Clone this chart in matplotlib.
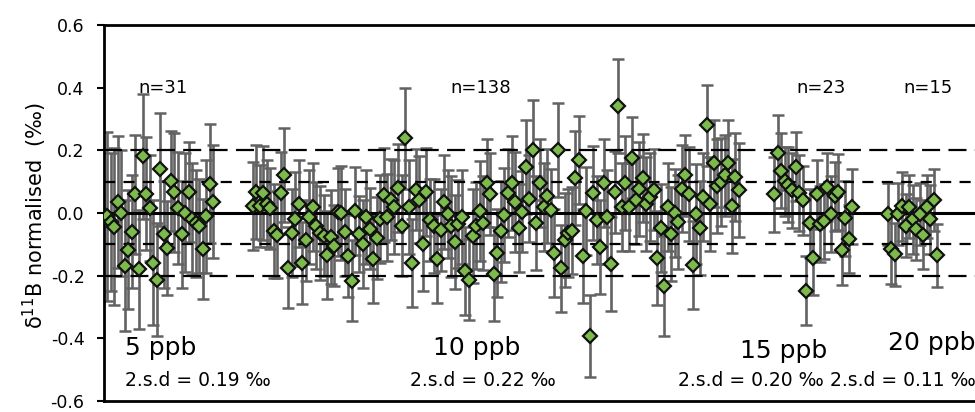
import matplotlib
matplotlib.use("Agg")
import matplotlib.pyplot as plt
import numpy as np

plt.rcParams['font.family'] = ['DejaVu Sans']
plt.rcParams['lines.scale_dashes'] = False

# ---- data ----
g1_vals = [-0.01, -0.03, -0.044, 0.036, 0.0, -0.168, -0.117, -0.06, 0.06, -0.18,
           0.181, 0.062, 0.016, -0.158, -0.213, 0.139, -0.068, -0.111, 0.102, 0.066,
           0.016, -0.068, 0.001, 0.067, -0.019, -0.033, -0.043, -0.114, -0.01, 0.093,
           0.036]
g1_err = [0.27, 0.22, 0.25, 0.21, 0.20, 0.21, 0.19, 0.18, 0.19, 0.19,
          0.20, 0.18, 0.17, 0.20, 0.18, 0.18, 0.17, 0.15, 0.16, 0.19,
          0.18, 0.17, 0.19, 0.16, 0.18, 0.17, 0.15, 0.16, 0.18, 0.19,
          0.18]

g2_vals = [0.022, 0.067, 0.022, 0.064, 0.03, 0.015, -0.059, -0.069, 0.064, 0.12,
           -0.174, -0.064, -0.02, 0.03, -0.16, -0.087, -0.014, 0.02, -0.04, -0.064,
           -0.072, -0.135, -0.075, -0.104, 0.004, 0.0, -0.062, -0.137, -0.216, 0.007,
           -0.067, -0.098, -0.014, -0.05, -0.146, -0.08, -0.02, 0.057, -0.014, 0.043,
           0.018, 0.08, -0.04, 0.238, 0.018, -0.16, 0.075, 0.043, -0.1, 0.067,
           -0.022, -0.04,
           -0.146, -0.054, 0.036, -0.003, -0.043, -0.093, -0.035, -0.012, -0.185, -0.213,
           -0.072, -0.04, 0.007, -0.033, 0.096, 0.06, -0.195, -0.127, -0.059, -0.006,
           0.064, 0.096, 0.036, -0.048, 0.004, 0.148, 0.046, 0.2, -0.033, 0.096,
           0.02, 0.054, 0.01, -0.127, 0.2, -0.177, -0.085, -0.064, -0.056, 0.112,
           0.169, -0.138, 0.007, -0.392, 0.064, -0.022, -0.108, 0.096, -0.012, -0.164,
           0.067, 0.34, 0.02, 0.096,
           0.02, 0.177, 0.041, 0.078, 0.112, 0.028, 0.05, 0.075, -0.143, -0.048,
           -0.232, 0.02, -0.066, 0.0, -0.03, 0.078, 0.12, 0.06, -0.167, -0.003,
           -0.048, 0.051, 0.28, 0.03, 0.158, 0.085, 0.1, 0.12, 0.158, 0.022,
           0.114, 0.072]
g2_err = [0.14, 0.15, 0.13, 0.15, 0.14, 0.13, 0.15, 0.14, 0.13, 0.15,
          0.13, 0.14, 0.15, 0.14, 0.13, 0.13, 0.15, 0.14, 0.14, 0.15,
          0.13, 0.14, 0.15, 0.13, 0.14, 0.15, 0.14, 0.13, 0.13, 0.14,
          0.12, 0.14, 0.15, 0.13, 0.14, 0.13, 0.14, 0.15, 0.14, 0.13,
          0.15, 0.14, 0.16, 0.16, 0.15, 0.14, 0.13, 0.14, 0.15, 0.14,
          0.13, 0.15, 0.14, 0.13, 0.15, 0.14, 0.16, 0.15, 0.14, 0.15,
          0.14, 0.13, 0.15, 0.14, 0.16, 0.15, 0.14, 0.13, 0.15, 0.14,
          0.16, 0.15, 0.14, 0.15, 0.16, 0.14, 0.13, 0.15, 0.14, 0.16,
          0.15, 0.14, 0.14, 0.15, 0.13, 0.14, 0.15, 0.14, 0.15, 0.14,
          0.14, 0.15, 0.14, 0.15, 0.14, 0.13, 0.15, 0.14, 0.15, 0.14,
          0.15, 0.15, 0.13, 0.15, 0.14, 0.15, 0.14, 0.13, 0.14, 0.15,
          0.14, 0.15, 0.14, 0.13, 0.15, 0.14, 0.16, 0.14, 0.15, 0.14,
          0.15, 0.14, 0.13, 0.15, 0.14, 0.16, 0.15, 0.14, 0.13, 0.15,
          0.14, 0.15, 0.14, 0.13, 0.14, 0.15, 0.14, 0.15]

g3_vals = [0.06, 0.193, 0.135, 0.102, 0.09, 0.072, 0.148, 0.064, 0.041, -0.248,
           -0.033, -0.143, 0.06, -0.035, -0.027, 0.083, -0.003, 0.054, 0.067, -0.119,
           -0.017, -0.083, 0.02]
g3_err = [0.12, 0.12, 0.12, 0.11, 0.12, 0.12, 0.11, 0.12, 0.11, 0.11,
          0.11, 0.12, 0.11, 0.12, 0.12, 0.11, 0.12, 0.11, 0.12, 0.11,
          0.12, 0.11, 0.12]

g4_vals = [-0.003, -0.115, -0.132, -0.003, 0.022, -0.04, 0.02, -0.02, -0.051, -0.003,
           -0.069, 0.02, -0.02, 0.041, -0.135]
g4_err = [0.10, 0.11, 0.10, 0.10, 0.11, 0.10, 0.10, 0.11, 0.10, 0.10,
          0.11, 0.10, 0.11, 0.10, 0.10]

group_start = [0, 41, 188, 220]
n_labels = ["n=31", "n=138", "n=23", "n=15"]
conc_labels = ["5 ppb", "10 ppb", "15 ppb", "20 ppb"]
sd_labels = ["2.s.d = 0.19 \u2030", "2.s.d = 0.22 \u2030", "2.s.d = 0.20 \u2030", "2.s.d = 0.11 \u2030"]
yticks = [-0.6, -0.4, -0.2, 0.0, 0.2, 0.4, 0.6]
ytick_labels = ["-0.6", "-0.4", "-0.2", "0.0", "0.2", "0.4", "0.6"]

# ---- figure ----
W, H = 975, 412
fig = plt.figure(figsize=(W / 100, H / 100), dpi=100)
left_px, right_px, top_px, bot_px = 104, 1012, 25, 401
ax = fig.add_axes([left_px / W, (H - bot_px) / H, (right_px - left_px) / W, (bot_px - top_px) / H])

green = '#7BBA4B'
groups = [(g1_vals, g1_err), (g2_vals, g2_err), (g3_vals, g3_err), (g4_vals, g4_err)]
for (vals, errs), s in zip(groups, group_start):
    n = min(len(vals), len(errs))
    x = s + np.arange(n)
    ax.errorbar(x, vals[:n], yerr=errs[:n], fmt='none', ecolor='#626262',
                elinewidth=1.9, capsize=4.0, capthick=1.8, zorder=2)
    ax.plot(x, vals[:n], linestyle='none', marker='D', ms=7, mfc=green,
            mec='#111111', mew=1.6, zorder=5)

ax.axhline(0, color='black', lw=2.2, zorder=3)
for yv in (0.2, -0.2):
    ax.axhline(yv, color='black', lw=1.6, linestyle=(0, (13, 6)), zorder=3)
for yv in (0.1, -0.1):
    ax.axhline(yv, color='black', lw=1.6, linestyle=(0, (8, 6)), zorder=3)

ax.set_xlim(-0.85, 255)
ax.set_ylim(-0.6, 0.6)
ax.set_yticks(yticks)
ax.set_yticklabels(ytick_labels, fontsize=12.5)
ax.set_xticks([])
ax.tick_params(axis='y', direction='out', length=5, width=1.5, pad=9)
for sp in ['left', 'top', 'bottom']:
    ax.spines[sp].set_linewidth(2)
ax.spines['right'].set_visible(False)

fig.text(35 / W, 0.478, "\u03b4$^{11}$B normalised  (\u2030)", rotation=90,
         ha='center', va='center', fontsize=15)

n_x = [15.8, 105.4, 201.1, 231.3]
for lab, xx in zip(n_labels, n_x):
    ax.text(xx, 0.40, lab, ha='center', va='center', fontsize=13, zorder=6)

conc_x = [5.1, 91.8, 178.3, 220.0]
conc_y = [-0.43, -0.43, -0.44, -0.415]
for lab, xx, yy in zip(conc_labels, conc_x, conc_y):
    ax.text(xx, yy, lab, ha='left', va='center', fontsize=18, zorder=6)

sd_x = [5.1, 85.4, 160.8, 203.7]
for lab, xx in zip(sd_labels, sd_x):
    ax.text(xx, -0.535, lab, ha='left', va='center', fontsize=13.5, zorder=6)

fig.savefig("out.png", dpi=100)
